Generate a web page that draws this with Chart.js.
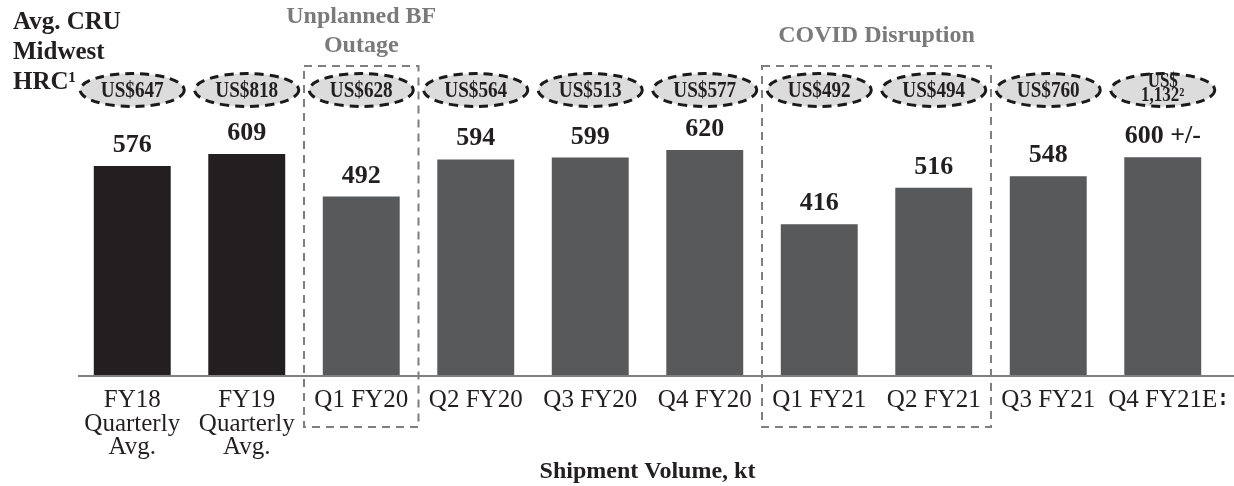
<!DOCTYPE html>
<html>
<head>
<meta charset="utf-8">
<script src="https://cdn.jsdelivr.net/npm/chart.js@4.4.0/dist/chart.umd.min.js"></script>
<style>
    html, body { margin: 0; padding: 0; background: #ffffff; }
    #wrap { width: 1234px; height: 486px; position: relative; }
</style>
</head>
<body>
<div id="wrap"><canvas id="shipChart" width="1234" height="486"></canvas></div>
<script>
// Chart data
const categories = [
    ['FY18', 'Quarterly', 'Avg.'],
    ['FY19', 'Quarterly', 'Avg.'],
    ['Q1 FY20'], ['Q2 FY20'], ['Q3 FY20'], ['Q4 FY20'],
    ['Q1 FY21'], ['Q2 FY21'], ['Q3 FY21'], ['Q4 FY21E']
];
const shipments = [576, 609, 492, 594, 599, 620, 416, 516, 548, 600];
const shipmentLabels = ['576', '609', '492', '594', '599', '620', '416', '516', '548', '600 +/-'];
const hrcPrices = [
    ['US$647'], ['US$818'], ['US$628'], ['US$564'], ['US$513'],
    ['US$577'], ['US$492'], ['US$494'], ['US$760'], ['US$', '1,132²']
];
const barColors = ['#231f20', '#231f20', '#58595b', '#58595b', '#58595b',
                   '#58595b', '#58595b', '#58595b', '#58595b', '#58595b'];
const groupTitles = [['Unplanned BF', 'Outage'], ['COVID Disruption']];
const groupStart = [2, 6];
const groupEnd = [2, 7];
const priceTitle = ['Avg. CRU', 'Midwest', 'HRC¹'];
const xTitle = 'Shipment Volume, kt';

const SERIF = '"Liberation Serif", "Times New Roman", serif';

// Draws labels, ovals, boxes and axis line around the bars
const decorPlugin = {
    id: 'decor',
    afterDraw(chart) {
        const ctx = chart.ctx;
        const area = chart.chartArea;
        const xScale = chart.scales.x;
        const bars = chart.getDatasetMeta(0).data;
        const step = area.width / categories.length;

        ctx.save();

        // axis line
        ctx.strokeStyle = '#808080';
        ctx.lineWidth = 2;
        ctx.beginPath();
        ctx.moveTo(78, area.bottom);
        ctx.lineTo(chart.width, area.bottom);
        ctx.stroke();

        // bar value labels
        ctx.fillStyle = '#231f20';
        ctx.textAlign = 'center';
        ctx.textBaseline = 'alphabetic';
        ctx.font = 'bold 26px ' + SERIF;
        bars.forEach((bar, i) => {
            ctx.fillText(shipmentLabels[i], bar.x, bar.y - 14);
        });

        // category labels
        ctx.font = '25px ' + SERIF;
        categories.forEach((lines, i) => {
            const x = xScale.getPixelForValue(i);
            lines.forEach((line, j) => {
                ctx.fillText(line, x, 407 + j * 23.5);
            });
        });

        // x title
        ctx.font = 'bold 24px ' + SERIF;
        ctx.fillText(xTitle, (area.left + area.right) / 2, 478);

        // price title, top left
        ctx.textAlign = 'left';
        ctx.font = 'bold 25px ' + SERIF;
        priceTitle.forEach((line, j) => {
            ctx.fillText(line, 13, 29 + j * 30);
        });

        // price ovals
        hrcPrices.forEach((lines, i) => {
            const x = xScale.getPixelForValue(i);
            const y = 90;
            ctx.beginPath();
            ctx.ellipse(x, y, 52, 16.5, 0, 0, Math.PI * 2);
            ctx.fillStyle = '#dcdcdc';
            ctx.fill();
            ctx.setLineDash([9, 6]);
            ctx.lineWidth = 3;
            ctx.strokeStyle = '#1a1a1a';
            ctx.stroke();
            ctx.setLineDash([]);

            ctx.fillStyle = '#231f20';
            ctx.textAlign = 'center';
            if (lines.length === 1) {
                ctx.save();
                ctx.translate(x, 97);
                ctx.scale(0.8, 1);
                ctx.font = 'bold 24px ' + SERIF;
                ctx.fillText(lines[0], 0, 0);
                ctx.restore();
            } else {
                ctx.font = 'bold 20px ' + SERIF;
                lines.forEach((line, j) => {
                    ctx.save();
                    ctx.translate(x, 87 + j * 14);
                    ctx.scale(0.85, 1);
                    ctx.fillText(line, 0, 0);
                    ctx.restore();
                });
            }
        });

        // dashed group boxes and their titles
        groupTitles.forEach((title, g) => {
            const left = xScale.getPixelForValue(groupStart[g]) - step / 2;
            const right = xScale.getPixelForValue(groupEnd[g]) + step / 2;
            ctx.strokeStyle = '#7f7f7f';
            ctx.lineWidth = 2;
            ctx.setLineDash([8, 6]);
            ctx.strokeRect(left, 66, right - left, 361);
            ctx.setLineDash([]);

            ctx.fillStyle = '#7a7a7a';
            ctx.textAlign = 'center';
            ctx.font = 'bold 24px ' + SERIF;
            const cx = (left + right) / 2;
            if (title.length === 2) {
                ctx.fillText(title[0], cx, 23);
                ctx.fillText(title[1], cx, 52);
            } else {
                ctx.fillText(title[0], cx, 42);
            }
        });

        // cut-off marker at the right edge
        ctx.strokeStyle = '#231f20';
        ctx.lineWidth = 3;
        ctx.setLineDash([4, 4]);
        ctx.beginPath();
        ctx.moveTo(area.right + 3, 393);
        ctx.lineTo(area.right + 3, 409);
        ctx.stroke();

        ctx.restore();
    }
};

const ctx = document.getElementById('shipChart').getContext('2d');
const shipChart = new Chart(ctx, {
    type: 'bar',
    data: {
        labels: categories.map(c => c.join(' ')),
        datasets: [{
            label: 'Shipment Volume, kt',
            data: shipments,
            backgroundColor: barColors,
            borderWidth: 0,
            barPercentage: 0.672,
            categoryPercentage: 1.0
        }]
    },
    options: {
        responsive: false,
        animation: false,
        layout: {
            padding: { left: 75, right: 14, top: 11.4, bottom: 110 }
        },
        scales: {
            x: { display: false },
            y: { display: false, min: 0, max: 1000 }
        },
        plugins: {
            legend: { display: false },
            tooltip: { enabled: false }
        }
    },
    plugins: [decorPlugin]
});
</script>
</body>
</html>
